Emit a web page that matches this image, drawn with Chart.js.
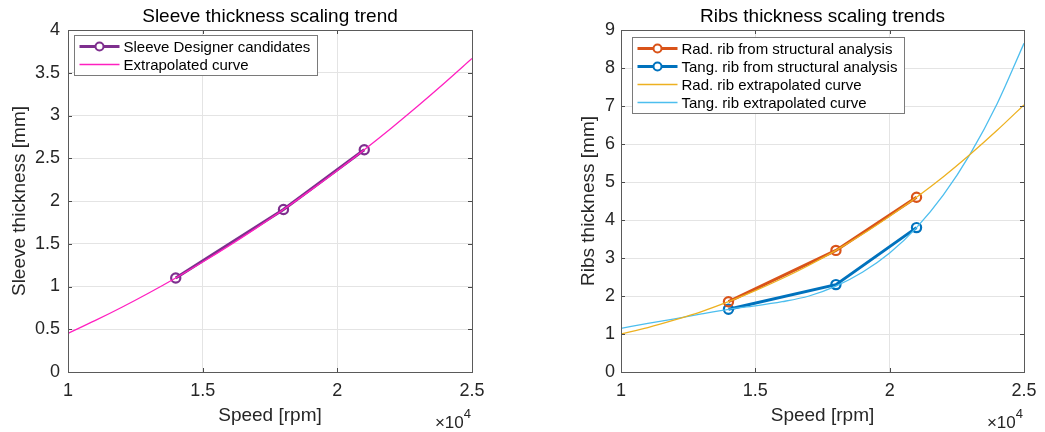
<!DOCTYPE html>
<html>
<head>
<meta charset="utf-8">
<script src="https://cdn.jsdelivr.net/npm/chart.js@4.4.1/dist/chart.umd.min.js"></script>
<style>
  html, body { margin: 0; padding: 0; background: #ffffff; }
  #wrap { position: relative; width: 1045px; height: 432px; overflow: hidden; }
  canvas { position: absolute; top: 0; }
</style>
</head>
<body>
<div id="wrap">
  <canvas id="sleeve" width="522" height="432" style="left:0;width:522px;height:432px"></canvas>
  <canvas id="ribs" width="523" height="432" style="left:522px;width:523px;height:432px"></canvas>
</div>
<script>
// Rotor speeds of the evaluated designs [rpm]
const designSpeeds = [14000, 18000, 21000];
// Sleeve thickness of the designer candidates [mm]
const sleeveThickness = [1.1, 1.9, 2.6];
// Rib thickness from the structural analysis [mm]
const radRibThickness = [1.85, 3.2, 4.6];
const tangRibThickness = [1.65, 2.3, 3.8];

// Speed grid of the extrapolated curves [rpm]
const curveSpeeds = [10000, 11000, 12000, 13000, 14000, 15000, 16000, 17000,
                     18000, 19000, 20000, 21000, 22000, 23000, 24000, 25000];
const sleeveCurve  = [0.452, 0.600, 0.757, 0.924, 1.100, 1.286, 1.481, 1.686,
                      1.900, 2.124, 2.357, 2.600, 2.852, 3.114, 3.386, 3.667];
const radRibCurve  = [1.00, 1.17, 1.37, 1.59, 1.85, 2.14, 2.46, 2.81,
                      3.20, 3.63, 4.10, 4.60, 5.14, 5.73, 6.36, 7.03];
const tangRibCurve = [1.15, 1.28, 1.40, 1.53, 1.65, 1.74, 1.85, 2.00,
                      2.26, 2.63, 3.13, 3.80, 4.66, 5.74, 7.06, 8.65];

// Axis ticks
const speedTicks  = [10000, 15000, 20000, 25000];
const sleeveTicks = [0, 0.5, 1, 1.5, 2, 2.5, 3, 3.5, 4];
const ribTicks    = [0, 1, 2, 3, 4, 5, 6, 7, 8, 9];

const FONT = "'Liberation Sans', Arial, Helvetica, sans-serif";
const AXIS_COLOR = '#262626';

const toPoints = (xs, ys) => xs.map((x, i) => ({ x: x, y: ys[i] }));

function dataSeries(label, ys, color) {
  return {
    label: label,
    data: toPoints(designSpeeds, ys),
    borderColor: color,
    backgroundColor: color,
    borderWidth: 3,
    pointRadius: 4.6,
    pointBorderWidth: 2.2,
    pointBorderColor: color,
    pointBackgroundColor: 'rgba(0,0,0,0)',
    tension: 0,
    order: 1
  };
}

function curveSeries(label, ys, color) {
  return {
    label: label,
    data: toPoints(curveSpeeds, ys),
    borderColor: color,
    backgroundColor: color,
    borderWidth: 1.3,
    pointRadius: 0,
    cubicInterpolationMode: 'monotone',
    order: 0
  };
}

// Plot frame, inward ticks, title, legend and the x10^4 exponent label
const framePlugin = {
  id: 'frame',
  afterDraw(chart, args, opts) {
    const { ctx, chartArea: a, scales: { x, y } } = chart;
    ctx.save();

    // inward tick marks on all four sides
    ctx.strokeStyle = '#4a4a4a';
    ctx.lineWidth = 1;
    ctx.beginPath();
    x.ticks.forEach(t => {
      const px = Math.round(x.getPixelForValue(t.value)) + 0.5;
      ctx.moveTo(px, a.bottom); ctx.lineTo(px, a.bottom - 4);
      ctx.moveTo(px, a.top); ctx.lineTo(px, a.top + 4);
    });
    y.ticks.forEach(t => {
      const py = Math.round(y.getPixelForValue(t.value)) + 0.5;
      ctx.moveTo(a.left, py); ctx.lineTo(a.left + 4, py);
      ctx.moveTo(a.right, py); ctx.lineTo(a.right - 4, py);
    });
    ctx.stroke();

    // axes box
    ctx.strokeStyle = '#5a5a5a';
    ctx.strokeRect(Math.round(a.left) + 0.5, Math.round(a.top) + 0.5,
                   Math.round(a.right - a.left), Math.round(a.bottom - a.top));

    // title
    ctx.fillStyle = '#000000';
    ctx.font = '19px ' + FONT;
    ctx.textAlign = 'center';
    ctx.textBaseline = 'middle';
    ctx.fillText(opts.title, (a.left + a.right) / 2, 16.5);

    // legend
    const sets = chart.data.datasets;
    ctx.font = '15px ' + FONT;
    let maxW = 0;
    sets.forEach(d => { maxW = Math.max(maxW, ctx.measureText(d.label).width); });
    const bx = Math.round(a.left + opts.legendDx) + 0.5;
    const by = Math.round(a.top + opts.legendDy) + 0.5;
    const bw = Math.round(maxW + 56);
    const bh = Math.round(sets.length * 18 + 3.5);
    ctx.fillStyle = '#ffffff';
    ctx.fillRect(bx, by, bw, bh);
    ctx.strokeStyle = '#7a7a7a';
    ctx.lineWidth = 1;
    ctx.strokeRect(bx, by, bw, bh);
    sets.forEach((d, i) => {
      const ry = by + 11 + i * 18;
      ctx.strokeStyle = d.borderColor;
      ctx.lineWidth = d.borderWidth;
      ctx.beginPath();
      ctx.moveTo(bx + 5, ry);
      ctx.lineTo(bx + 45, ry);
      ctx.stroke();
      if (d.pointRadius > 0) {
        ctx.lineWidth = 2;
        ctx.fillStyle = '#ffffff';
        ctx.beginPath();
        ctx.arc(bx + 25, ry, 4, 0, Math.PI * 2);
        ctx.fill();
        ctx.stroke();
      }
      ctx.fillStyle = '#000000';
      ctx.textAlign = 'left';
      ctx.textBaseline = 'middle';
      ctx.fillText(d.label, bx + 49, ry + 1);
    });

    // exponent of the speed axis
    ctx.fillStyle = AXIS_COLOR;
    ctx.textAlign = 'right';
    ctx.textBaseline = 'alphabetic';
    ctx.font = '13px ' + FONT;
    const expRight = a.right - 1;
    const w4 = ctx.measureText('4').width;
    ctx.fillText('4', expRight, 418);
    ctx.font = '17px ' + FONT;
    ctx.fillText('\u00d710', expRight - w4, 428);

    ctx.restore();
  }
};

function makeChart(id, cfg) {
  return new Chart(document.getElementById(id), {
    type: 'line',
    data: { datasets: cfg.datasets },
    plugins: [framePlugin],
    options: {
      responsive: false,
      animation: false,
      events: [],
      layout: { padding: { left: 0, right: cfg.padRight, top: 30, bottom: 0 } },
      plugins: {
        legend: { display: false },
        tooltip: { enabled: false },
        frame: { title: cfg.title, legendDx: cfg.legendDx, legendDy: cfg.legendDy }
      },
      scales: {
        x: {
          type: 'linear',
          min: speedTicks[0],
          max: speedTicks[speedTicks.length - 1],
          afterBuildTicks: s => { s.ticks = speedTicks.map(v => ({ value: v })); },
          afterFit: s => { s.height = 60; },
          ticks: {
            callback: v => String(v / 10000),
            color: AXIS_COLOR,
            font: { family: FONT, size: 18 },
            padding: 8,
            maxRotation: 0,
            autoSkip: false
          },
          grid: { color: '#e4e4e4', lineWidth: 1, drawTicks: false },
          border: { display: false },
          title: {
            display: true,
            text: 'Speed [rpm]',
            color: AXIS_COLOR,
            font: { family: FONT, size: 19 },
            padding: { top: 0, bottom: 4.5 }
          }
        },
        y: {
          type: 'linear',
          min: cfg.yTicks[0],
          max: cfg.yTicks[cfg.yTicks.length - 1],
          afterBuildTicks: s => { s.ticks = cfg.yTicks.map(v => ({ value: v })); },
          afterFit: s => { s.width = cfg.yWidth; },
          ticks: {
            callback: v => String(v),
            color: AXIS_COLOR,
            font: { family: FONT, size: 18 },
            padding: cfg.yTickPad,
            autoSkip: false
          },
          grid: { color: '#e4e4e4', lineWidth: 1, drawTicks: false },
          border: { display: false },
          title: {
            display: true,
            text: cfg.yTitle,
            color: AXIS_COLOR,
            font: { family: FONT, size: 19 },
            padding: { top: cfg.yTitlePad, bottom: 0 }
          }
        }
      }
    }
  });
}

makeChart('sleeve', {
  title: 'Sleeve thickness scaling trend',
  yTitle: 'Sleeve thickness [mm]',
  yTicks: sleeveTicks,
  yWidth: 68,
  yTickPad: 8,
  yTitlePad: 8,
  padRight: 50,
  legendDx: 6,
  legendDy: 5,
  datasets: [
    dataSeries('Sleeve Designer candidates', sleeveThickness, '#7e2f8e'),
    curveSeries('Extrapolated curve', sleeveCurve, '#ff20c0')
  ]
});

makeChart('ribs', {
  title: 'Ribs thickness scaling trends',
  yTitle: 'Ribs thickness [mm]',
  yTicks: ribTicks,
  yWidth: 99,
  yTickPad: 6,
  yTitlePad: 55,
  padRight: 21,
  legendDx: 11,
  legendDy: 7,
  datasets: [
    dataSeries('Rad. rib from structural analysis', radRibThickness, '#d95319'),
    dataSeries('Tang. rib from structural analysis', tangRibThickness, '#0072bd'),
    curveSeries('Rad. rib extrapolated curve', radRibCurve, '#edb120'),
    curveSeries('Tang. rib extrapolated curve', tangRibCurve, '#4dbeee')
  ]
});
</script>
</body>
</html>
